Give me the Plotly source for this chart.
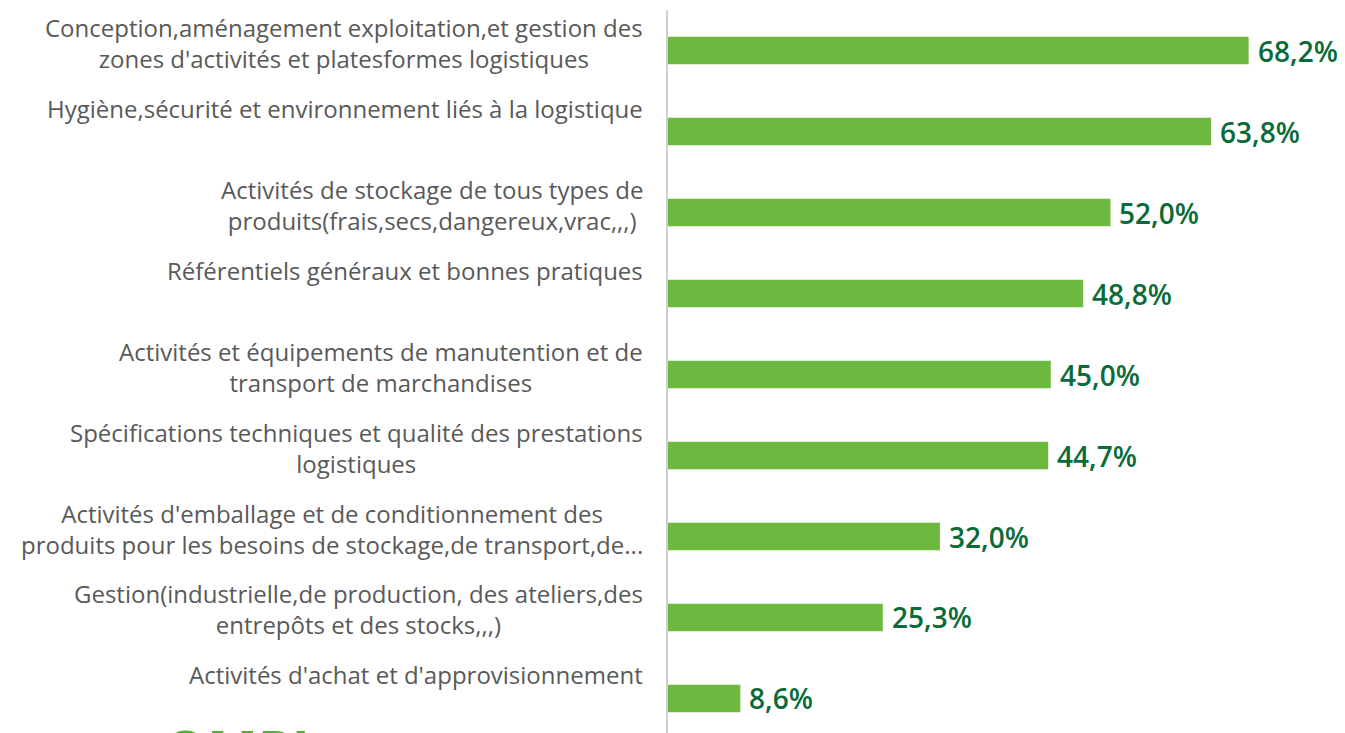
import plotly.graph_objects as go

categories = [
    "Conception,aménagement exploitation,et gestion des<br>zones d'activités et platesformes logistiques",
    "Hygiène,sécurité et environnement liés à la logistique",
    "Activités de stockage de tous types de<br>produits(frais,secs,dangereux,vrac,,,)",
    "Référentiels généraux et bonnes pratiques",
    "Activités et équipements de manutention et de<br>transport de marchandises",
    "Spécifications techniques et qualité des prestations<br>logistiques",
    "Activités d'emballage et de conditionnement des<br>produits pour les besoins de stockage,de transport,de...",
    "Gestion(industrielle,de production, des ateliers,des<br>entrepôts et des stocks,,,)",
    "Activités d'achat et d'approvisionnement",
]
values = [68.2, 63.8, 52.0, 48.8, 45.0, 44.7, 32.0, 25.3, 8.6]
value_labels = ["68,2%", "63,8%", "52,0%", "48,8%", "45,0%", "44,7%", "32,0%", "25,3%", "8,6%"]

ids = list(range(len(categories)))

fig = go.Figure()
fig.add_trace(go.Bar(
    x=values, y=ids, orientation="h",
    marker=dict(color="#6db83f", line=dict(width=0)),
    width=0.34, hoverinfo="skip",
))

annotations = []
for i, (cat, v, lab) in enumerate(zip(categories, values, value_labels)):
    annotations.append(dict(
        x=0, y=i, xref="x", yref="y", text=cat, showarrow=False,
        xanchor="right", yanchor="top", align="center", xshift=-22, yshift=42,
        font=dict(family="Open Sans", size=24, color="#595959"),
    ))
    annotations.append(dict(
        x=v, y=i, xref="x", yref="y", text=lab, showarrow=False,
        xanchor="left", yanchor="middle", xshift=7, yshift=0,
        font=dict(family="Open Sans", size=28, color="#0b6b38", weight=600),
    ))

# partially visible logo text at the bottom-left (cut off in the reference too)
annotations.append(dict(
    x=-0.745, y=0.032, xref="paper", yref="paper", text="OMPL", showarrow=False,
    xanchor="left", yanchor="top", font=dict(family="Open Sans", size=54, color="#4fb234", weight=700),
))

fig.update_layout(
    width=1337, height=725,
    margin=dict(l=659, r=0, t=2, b=0),
    paper_bgcolor="white", plot_bgcolor="white",
    showlegend=False,
    annotations=annotations,
    xaxis=dict(range=[0, 79.5], visible=False, fixedrange=True),
    yaxis=dict(range=[8.426, -0.5], showticklabels=False, showgrid=False, zeroline=False,
               showline=False, ticks="", fixedrange=True),
    shapes=[dict(type="line", xref="paper", yref="paper", x0=0, x1=0, y0=0, y1=1,
                 line=dict(color="#d0d0d0", width=2))],
)

fig.write_html("out.html")
